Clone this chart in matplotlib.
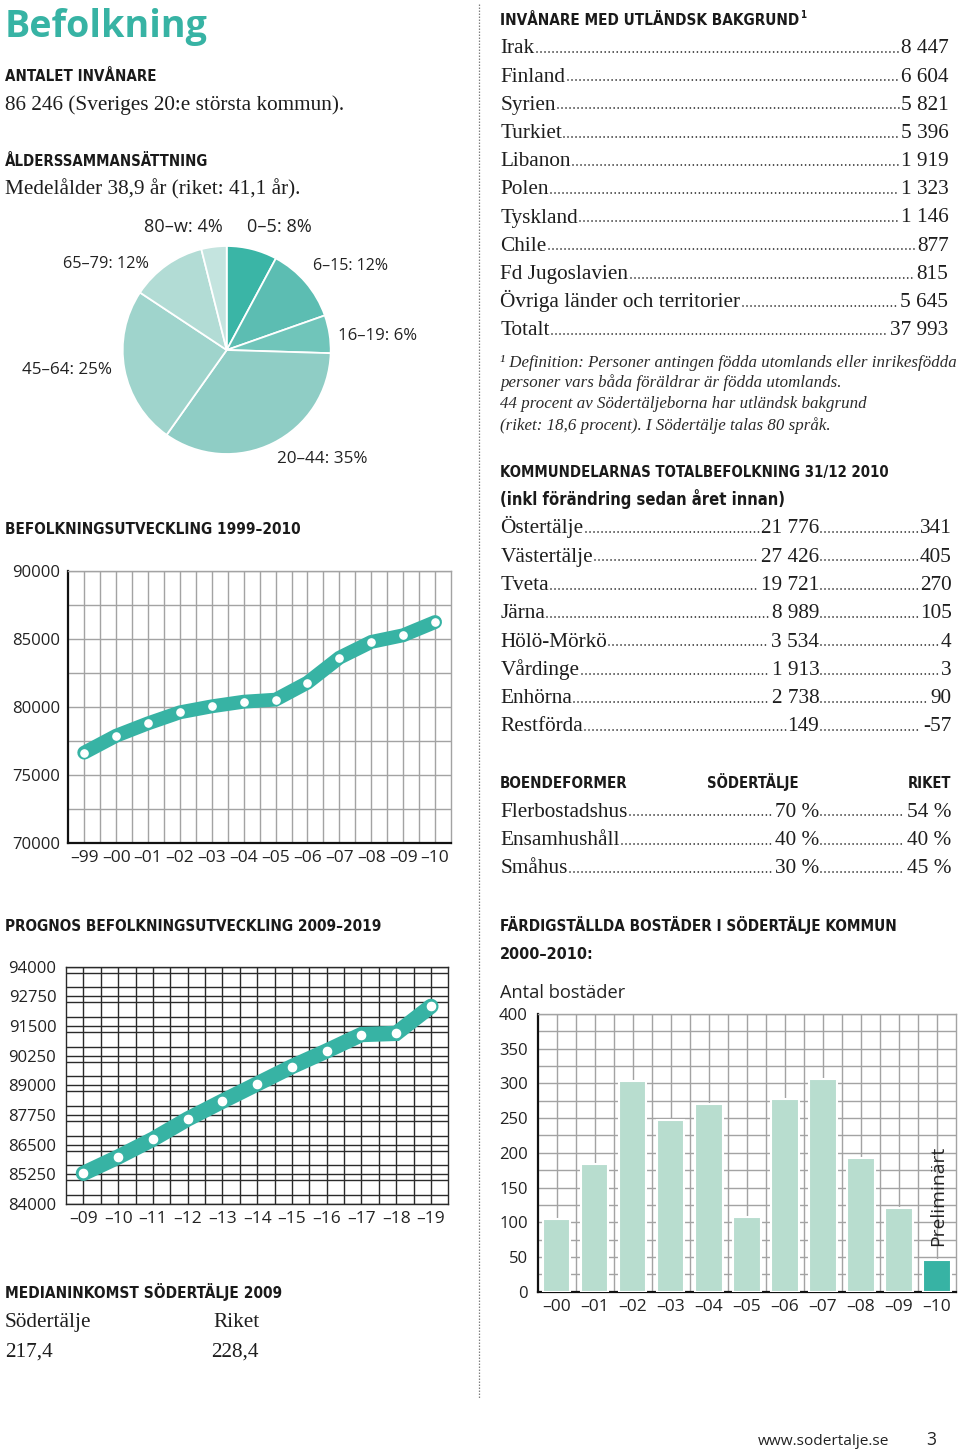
import os
import matplotlib
matplotlib.use("Agg")
import matplotlib.pyplot as plt
from matplotlib.lines import Line2D
from matplotlib.ticker import MultipleLocator, FixedLocator
from matplotlib import font_manager as fm

# ---------------- data ----------------
age_groups = ["0–5", "6–15", "16–19", "20–44", "45–64", "65–79", "80–w"]
age_pct = [8, 12, 6, 35, 25, 12, 4]

pop_years = ["–99", "–00", "–01", "–02", "–03", "–04", "–05", "–06", "–07", "–08", "–09", "–10"]
pop_values = [76660, 77900, 78810, 79620, 80060, 80400, 80550, 81800, 83630, 84790, 85280, 86250]

prog_years = ["–09", "–10", "–11", "–12", "–13", "–14", "–15", "–16", "–17", "–18", "–19"]
prog_values = [85290, 85980, 86730, 87580, 88330, 89060, 89790, 90450, 91140, 91190, 92330]

built_years = ["–00", "–01", "–02", "–03", "–04", "–05", "–06", "–07", "–08", "–09", "–10"]
built_values = [105, 184, 303, 248, 271, 107, 278, 307, 193, 120, 45]

countries = ["Irak", "Finland", "Syrien", "Turkiet", "Libanon", "Polen", "Tyskland", "Chile",
             "Fd Jugoslavien", "Övriga länder och territorier", "Totalt"]
country_values = ["8 447", "6 604", "5 821", "5 396", "1 919", "1 323", "1 146", "877", "815", "5 645", "37 993"]

districts = ["Östertälje", "Västertälje", "Tveta", "Järna", "Hölö-Mörkö", "Vårdinge", "Enhörna", "Restförda"]
district_pop = ["21 776", "27 426", "19 721", "8 989", "3 534", "1 913", "2 738", "149"]
district_change = ["341", "405", "270", "105", "4", "3", "90", "-57"]

housing = ["Flerbostadshus", "Ensamhushåll", "Småhus"]
housing_sod = ["70 %", "40 %", "30 %"]
housing_riket = ["54 %", "40 %", "45 %"]

income_labels = ["Södertälje", "Riket"]
income_values = ["217,4", "228,4"]

# ---------------- style ----------------
W, H = 960, 1449
TEAL = "#37b3a4"
TXT = "#1e1e1e"
pie_colors = ["#3ab5a6", "#5cbdb2", "#70c5ba", "#8fcdc5", "#9fd4cc", "#b2dcd5", "#c4e4df"]


def find_condensed_bold():
    prio = ["liberationsansnarrow-bold.", "dejavusanscondensed-bold.", "notosans-condensedbold.",
            "robotocondensed-bold.", "opensans-condensedbold.", "opensans_condensed-bold.",
            "notosans-semicondensedbold.", "opensans-semicondensedbold."]
    files = [f.fname for f in fm.fontManager.ttflist]
    for p in prio:
        for fn in files:
            if os.path.basename(fn).lower().startswith(p):
                return fn
    for fn in files:
        b = os.path.basename(fn).lower()
        if (("narrow" in b or "condensed" in b) and "bold" in b and "italic" not in b
                and "oblique" not in b and "serif" not in b and "mono" not in b
                and "extra" not in b and "semi" not in b):
            return fn
    return None


COND = find_condensed_bold()


def head_props():
    if COND:
        return dict(fontproperties=fm.FontProperties(fname=COND))
    return dict(family="Roboto", weight="bold")


SERIF = "Liberation Serif"
SANS = "Open Sans"

fig = plt.figure(figsize=(W / 100, H / 100), dpi=100)
fig.patch.set_facecolor("white")
R = fig.canvas.get_renderer()


def text(x, y, s, size=12, fit=None, ha="left", va="baseline", **kw):
    kw.setdefault("color", TXT)
    t = fig.text(x / W, 1 - y / H, s, ha=ha, va=va, **kw)
    t.set_fontsize(size)
    if fit:
        w = t.get_window_extent(R).width
        t.set_fontsize(size * fit / w)
    return t


def fit_size(s, width, **kw):
    t = fig.text(0, 0, s, fontsize=20, **kw)
    w = t.get_window_extent(R).width
    t.remove()
    return 20 * width / w


def leader(t1, t2, y):
    b1 = t1.get_window_extent(R)
    b2 = t2.get_window_extent(R)
    x0, x1 = b1.x1 + 2.0, b2.x0 - 2.0
    yy = (H - y + 1.3) / H
    fig.add_artist(Line2D([x0 / W, x1 / W], [yy, yy], transform=fig.transFigure,
                          color="#222222", lw=1.25, linestyle=(0, (0.01, 2.3)),
                          dash_capstyle="round"))


def header(x, y, s, width, ha="left"):
    return text(x, y, s, 20, fit=width, ha=ha, color="#1a1a1a", **head_props())


# body serif size
S = fit_size("Övriga länder och territorier", 240, family=SERIF)

# ---------------- left column texts ----------------
text(5, 37, "Befolkning", 30, fit=202, family=SANS, weight="bold", color=TEAL)
header(5, 81, "ANTALET INVÅNARE", 150)
text(5, 110, "86 246 (Sveriges 20:e största kommun).", S, family=SERIF)
header(5, 166, "ÅLDERSSAMMANSÄTTNING", 202)
text(5, 194, "Medelålder 38,9 år (riket: 41,1 år).", S, family=SERIF)
header(5, 534, "BEFOLKNINGSUTVECKLING 1999–2010", 294)
header(5, 931, "PROGNOS BEFOLKNINGSUTVECKLING 2009–2019", 376)
header(5, 1298, "MEDIANINKOMST SÖDERTÄLJE 2009", 277)
text(5, 1327, income_labels[0], S, family=SERIF)
text(213, 1327, income_labels[1], S, family=SERIF)
text(5, 1357, income_values[0], S, family=SERIF)
text(211, 1357, income_values[1], S, family=SERIF)

# ---------------- pie ----------------
cx, cy, rad = 226.7, 350, 104
axp = fig.add_axes([(cx - rad) / W, 1 - (cy + rad) / H, 2 * rad / W, 2 * rad / H])
axp.pie(age_pct, colors=pie_colors, startangle=90, counterclock=False,
        wedgeprops=dict(edgecolor="white", linewidth=1.3))
axp.set_xlim(-1, 1)
axp.set_ylim(-1, 1)
axp.set_aspect("auto")
axp.axis("off")

pie_label_pos = [(247, 232, 65), (313, 270, 75), (338, 340, 79), (277, 463, 91),
                 (22, 374, 90), (63, 268, 86), (144, 232, 79)]
for (lab, p), (lx, ly, lw_) in zip(zip(age_groups, age_pct), pie_label_pos):
    text(lx, ly, f"{lab}: {p}%", 12, fit=lw_, family=SANS, color="#222222")

# ---------------- chart 1: population 1999-2010 ----------------
def style_axes(ax, grid_color, left_dark=True):
    for side in ["top", "right", "left", "bottom"]:
        ax.spines[side].set_color(grid_color)
        ax.spines[side].set_linewidth(1.0)
    if left_dark:
        ax.spines["left"].set_color("#111111")
        ax.spines["bottom"].set_color("#111111")
        ax.spines["left"].set_linewidth(1.6)
        ax.spines["bottom"].set_linewidth(1.6)
    ax.tick_params(which="both", length=0)
    ax.grid(True, which="both", color=grid_color, lw=1.0)
    ax.set_axisbelow(True)
    ax.set_facecolor("white")
    for lab in ax.get_xticklabels() + ax.get_yticklabels():
        lab.set_family(SANS)
        lab.set_color("#222222")


l, r_, t_, b_ = 68.3, 451, 571, 843.3
ax1 = fig.add_axes([l / W, 1 - b_ / H, (r_ - l) / W, (b_ - t_) / H])
xs1 = [i + 0.5 for i in range(len(pop_values))]
ax1.plot(xs1, pop_values, color=TEAL, lw=10, solid_capstyle="round", solid_joinstyle="miter", zorder=3)
ax1.plot(xs1, pop_values, "o", ms=5.2, mfc="white", mec="white", zorder=4)
ax1.set_xlim(0, len(pop_values))
ax1.set_ylim(70000, 90000)
ax1.set_xticks(xs1)
ax1.set_xticklabels(pop_years, fontsize=12.5)
ax1.xaxis.set_minor_locator(FixedLocator(range(1, len(pop_values))))
ax1.set_yticks(range(70000, 90001, 5000))
ax1.set_yticklabels([str(v) for v in range(70000, 90001, 5000)], fontsize=12)
ax1.yaxis.set_minor_locator(MultipleLocator(2500))
ax1.tick_params(axis="y", pad=6)
ax1.tick_params(axis="x", pad=5)
style_axes(ax1, "#a3a3a3")

# ---------------- chart 2: projection 2009-2019 ----------------
l, r_, t_, b_ = 66, 448.3, 966.7, 1204
ax2 = fig.add_axes([l / W, 1 - b_ / H, (r_ - l) / W, (b_ - t_) / H])
xs2 = [i + 0.5 for i in range(len(prog_values))]
ax2.plot(xs2, prog_values, color=TEAL, lw=11, solid_capstyle="round", solid_joinstyle="miter", zorder=3)
ax2.plot(xs2, prog_values, "o", ms=7.8, mfc="white", mec=TEAL, mew=0.8, zorder=4)
ax2.set_xlim(0, len(prog_values))
ax2.set_ylim(84000, 94000)
ax2.set_xticks(xs2)
ax2.set_xticklabels(prog_years, fontsize=12.5)
ax2.xaxis.set_minor_locator(FixedLocator(range(1, len(prog_values))))
ax2.set_yticks(range(84000, 94001, 1250))
ax2.set_yticklabels([str(v) for v in range(84000, 94001, 1250)], fontsize=12)
ax2.yaxis.set_minor_locator(MultipleLocator(625))
ax2.tick_params(axis="y", pad=7)
ax2.tick_params(axis="x", pad=5)
style_axes(ax2, "#2a2a2a", left_dark=False)

# ---------------- right column ----------------
header(500, 25, "INVÅNARE MED UTLÄNDSK BAKGRUND", 298)
text(800, 18, "1", 7, color="#1a1a1a", **head_props())
y0 = 53.3
for i, (c, v) in enumerate(zip(countries, country_values)):
    y = y0 + i * 28.2
    t1 = text(500.5, y, c, S, family=SERIF)
    t2 = text(948.5, y, v, S, family=SERIF, ha="right")
    leader(t1, t2, y)

FS = fit_size("¹ Definition: Personer antingen födda utomlands eller inrikesfödda", 453,
              family=SERIF, style="italic")
notes = ["¹ Definition: Personer antingen födda utomlands eller inrikesfödda",
         "personer vars båda föräldrar är födda utomlands.",
         "44 procent av Södertäljeborna har utländsk bakgrund",
         "(riket: 18,6 procent). I Södertälje talas 80 språk."]
for s, y in zip(notes, [366.7, 386.7, 408.3, 430]):
    text(500.5, y, s, FS, family=SERIF, style="italic", color="#2a2a2a")

header(500, 477.3, "KOMMUNDELARNAS TOTALBEFOLKNING 31/12 2010", 388)
header(500, 505, "(inkl förändring sedan året innan)", 286)
y0 = 533.3
for i, (d, p, c) in enumerate(zip(districts, district_pop, district_change)):
    y = y0 + i * 28.3
    t1 = text(500.5, y, d, S, family=SERIF)
    t2 = text(819.3, y, p, S, family=SERIF, ha="right")
    t3 = text(951.5, y, c, S, family=SERIF, ha="right")
    leader(t1, t2, y)
    leader(t2, t3, y)

header(500, 788.3, "BOENDEFORMER", 128)
header(706.7, 788.3, "SÖDERTÄLJE", 91)
header(951.7, 788.3, "RIKET", 43, ha="right")
y0 = 816.7
for i, (hname, a, b) in enumerate(zip(housing, housing_sod, housing_riket)):
    y = y0 + i * 28.3
    t1 = text(500.5, y, hname, S, family=SERIF)
    t2 = text(819.3, y, a, S, family=SERIF, ha="right")
    t3 = text(951.5, y, b, S, family=SERIF, ha="right")
    leader(t1, t2, y)
    leader(t2, t3, y)

header(500, 930.7, "FÄRDIGSTÄLLDA BOSTÄDER I SÖDERTÄLJE KOMMUN", 396)
header(500, 959, "2000–2010:", 94)
text(500, 998, "Antal bostäder", 14, fit=126, family=SANS, color="#222222")

# ---------------- bar chart ----------------
l, r_, t_, b_ = 537.7, 956, 1014, 1291.7
ax3 = fig.add_axes([l / W, 1 - b_ / H, (r_ - l) / W, (b_ - t_) / H])
xs3 = [i + 0.5 for i in range(len(built_values))]
bar_colors = ["#b8ddcf"] * (len(built_values) - 1) + ["#37b3a4"]
ax3.bar(xs3, built_values, width=0.72, color=bar_colors, edgecolor="white", linewidth=1.5, zorder=3)
ax3.set_xlim(0, len(built_values))
ax3.set_ylim(0, 400)
ax3.set_xticks(xs3)
ax3.set_xticklabels(built_years, fontsize=12.5)
ax3.xaxis.set_minor_locator(FixedLocator(range(1, len(built_values))))
ax3.set_yticks(range(0, 401, 50))
ax3.set_yticklabels([str(v) for v in range(0, 401, 50)], fontsize=12)
ax3.yaxis.set_minor_locator(MultipleLocator(25))
ax3.tick_params(axis="y", pad=7)
ax3.tick_params(axis="x", pad=5)
style_axes(ax3, "#a3a3a3")
pt = fig.text(938.5 / W, 1 - 1246 / H, "Preliminärt", fontsize=14, rotation=90,
              ha="center", va="bottom", family=SANS, color="#222222")
hgt = pt.get_window_extent(R).height
pt.set_fontsize(14 * 101 / hgt)

# ---------------- divider & footer ----------------
fig.add_artist(Line2D([479.3 / W, 479.3 / W], [1 - 4 / H, 1 - 1398 / H], transform=fig.transFigure,
                      color="#808080", lw=0.9, linestyle=(0, (1.2, 1.2))))
text(758, 1445, "www.sodertalje.se", 12, fit=130, family=SANS, color="#222222")
text(926, 1445, "3", 15, fit=10, family=SANS, color="#222222")

fig.savefig("out.png", dpi=100, facecolor="white")
